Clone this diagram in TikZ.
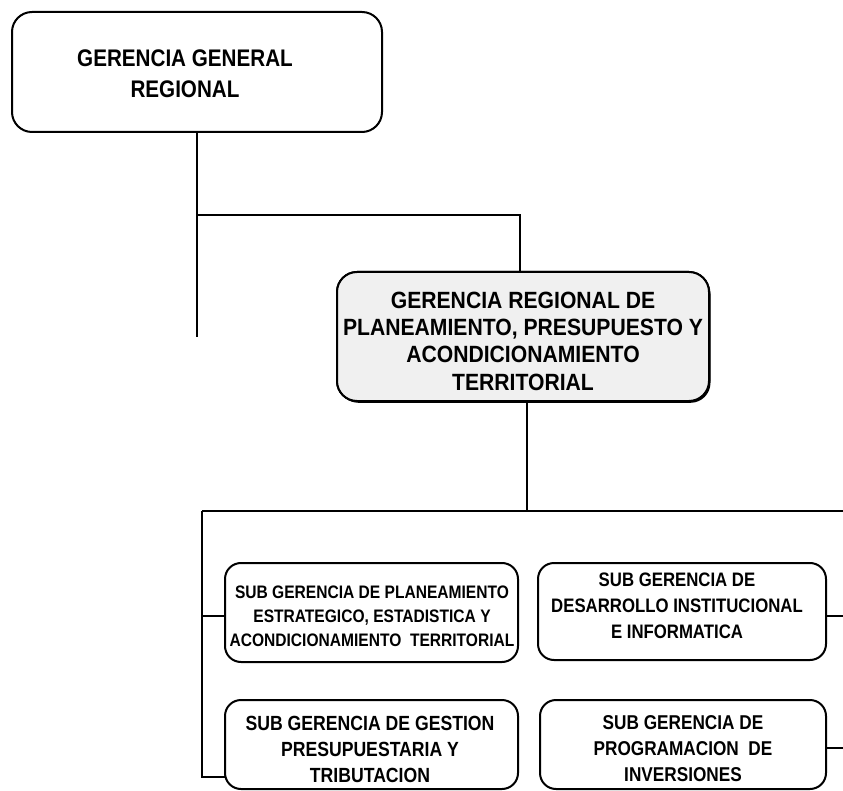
\documentclass[tikz,border=0pt]{standalone}
\usepackage{fontspec}
\newfontfamily\boxfont[FakeStretch=0.86]{Liberation Sans}
\newfontfamily\midfont[FakeStretch=0.9]{Liberation Sans}
\usetikzlibrary{shadows}
\tikzset{
  line/.style={line width=2pt, draw=black},
  orgbox/.style={draw=black, line width=2pt, rounded corners=20pt, fill=white},
  boxtext/.style={align=center, inner sep=0pt},
}
\begin{document}
\begin{tikzpicture}[x=1pt,y=-1pt]
\useasboundingbox (0,0) rectangle (843,791);
% boxes
\draw[orgbox] (12,12) rectangle (382,132);
\node[boxtext, font=\boxfont\bfseries\fontsize{24}{31}\selectfont] (top) at (185,74) {GERENCIA GENERAL\\REGIONAL};
\coordinate (topS) at (197,132);

\draw[orgbox, fill=gray!12, drop shadow={shadow xshift=1.5pt, shadow yshift=-1.8pt, fill=black, opacity=1}] (337,272) rectangle (709,401);
\draw[orgbox, fill=gray!12] (337,272) rectangle (709,401);
\node[boxtext, font=\midfont\bfseries\fontsize{23.5}{27.3}\selectfont] (mid) at (523,341) {GERENCIA REGIONAL DE\\PLANEAMIENTO, PRESUPUESTO Y\\ACONDICIONAMIENTO\\TERRITORIAL};
\coordinate (midN) at (520,272);
\coordinate (midS) at (527,401);

\draw[orgbox, rounded corners=16pt] (225,563) rectangle (518,662);
\node[boxtext, font=\boxfont\bfseries\fontsize{18.1}{24}\selectfont] (lt) at (372,616) {SUB GERENCIA DE PLANEAMIENTO\\ESTRATEGICO, ESTADISTICA Y\\ACONDICIONAMIENTO\ \ TERRITORIAL};
\coordinate (ltW) at (225,616);

\draw[orgbox, rounded corners=16pt] (538,563) rectangle (826,660);
\node[boxtext, font=\boxfont\bfseries\fontsize{19.5}{26}\selectfont] (rt) at (677,606) {SUB GERENCIA DE\\DESARROLLO INSTITUCIONAL\\E INFORMATICA};
\coordinate (rtE) at (826,616);

\draw[orgbox, rounded corners=16pt] (225,700) rectangle (518,789);
\node[boxtext, font=\boxfont\bfseries\fontsize{20.5}{26}\selectfont] (lb) at (370,749) {SUB GERENCIA DE GESTION\\PRESUPUESTARIA Y\\TRIBUTACION};
\coordinate (lbW) at (225,777);

\draw[orgbox, rounded corners=16pt] (540,700) rectangle (826,789);
\node[boxtext, font=\boxfont\bfseries\fontsize{20}{26}\selectfont] (rb) at (683,749) {SUB GERENCIA DE\\PROGRAMACION\ \ DE\\INVERSIONES};
\coordinate (rbE) at (826,748);

% connectors
\coordinate (leftEnd) at (197,337);
\coordinate (br1) at (197,215);
\draw[line] (topS) -- (leftEnd);
\draw[line] (br1) -| (midN);
\coordinate (hub) at (527,511);
\coordinate (hl) at (202,511);
\coordinate (hr) at (843,511);
\draw[line] (midS) -- (hub);
\draw[line] (hl) -- (hr);
\draw[line] (hl) |- (lbW);
\draw[line] (hl |- ltW) -- (ltW);
\coordinate (rt2) at (843,616);
\coordinate (rb2) at (843,748);
\draw[line] (rtE) -- (rt2);
\draw[line] (rbE) -- (rb2);
\end{tikzpicture}
\end{document}
